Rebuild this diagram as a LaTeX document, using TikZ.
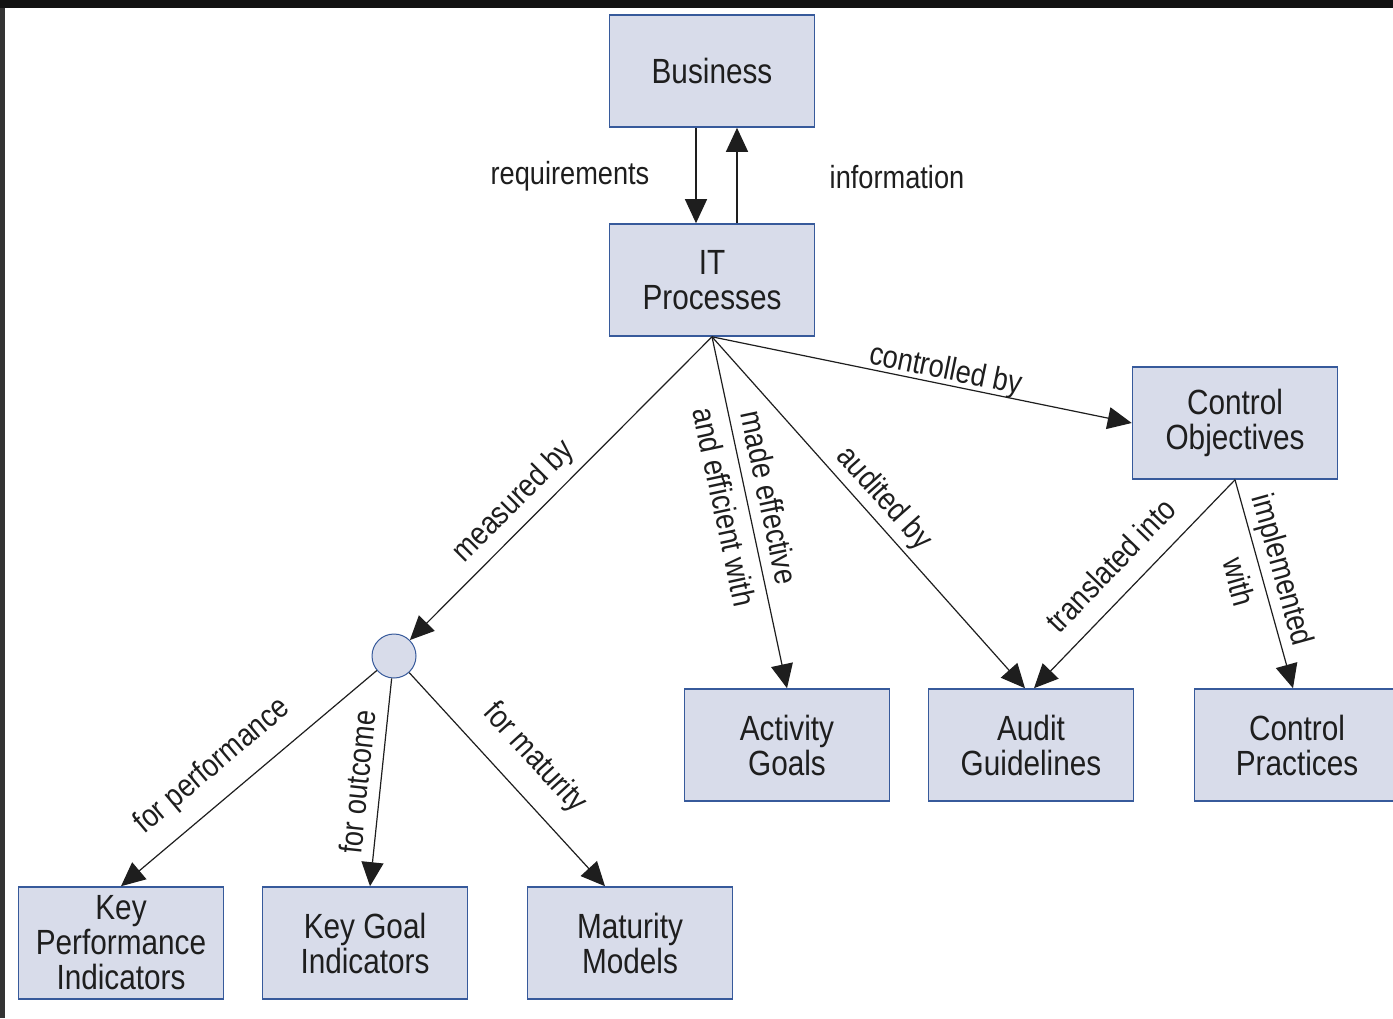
\documentclass[tikz,border=0pt]{standalone}
\usepackage{fontspec}
\setmainfont{Liberation Sans}[FakeStretch=0.85]
\usetikzlibrary{arrows.meta}
\definecolor{boxfill}{RGB}{216,220,234}
\definecolor{boxline}{RGB}{55,90,155}
\definecolor{ink}{RGB}{30,30,30}
\begin{document}
\begin{tikzpicture}[x=1pt, y=-1pt,
        box/.style={draw=boxline, line width=1.6pt, fill=boxfill, minimum width=205pt, minimum height=112pt, align=center, inner sep=0pt, text=ink, font=\fontsize{35}{35}\selectfont},
        dot/.style={circle, draw=boxline, line width=1pt, fill=boxfill, minimum size=44pt, inner sep=0pt},
        link/.style={-{Triangle[length=24pt,width=22pt]}, line width=1.2pt, draw=ink},
        lbl/.style={font=\fontsize{32}{46}\selectfont, text=ink, inner sep=1pt, align=center}]
        \useasboundingbox (0,0) rectangle (1393,1018);
        \fill[white] (0,0) rectangle (1393,1018);
        \fill[black!93] (0,0) rectangle (1393,8);
        \fill[black!80] (0,8) rectangle (5,1018);
        \node[box] (biz) at (712,71) {Business};
        \node[box] (itp) at (712,280) {IT\\Processes};
        \node[box] (cob) at (1235,423) {Control\\Objectives};
        \node[box] (act) at (787,745) {Activity\\Goals};
        \node[box] (aud) at (1031,745) {Audit\\Guidelines};
        \node[box] (cpr) at (1297,745) {Control\\Practices};
        \node[box] (kpi) at (121,943) {Key\\Performance\\Indicators};
        \node[box] (kgi) at (365,943) {Key Goal\\Indicators};
        \node[box] (mat) at (630,943) {Maturity\\Models};
        \node[dot] (hub) at (394,656) {};
        \node[lbl] (req) at (570,176) {requirements};
        \node[lbl] (inf) at (897,177) {information};
        \draw[link] ([xshift=-16pt]biz.south) -- ([xshift=-16pt]itp.north);
        \draw[link] ([xshift=25pt]itp.north) -- ([xshift=25pt]biz.south);
        \draw[link] (itp.south) -- node[lbl, sloped, pos=.6, above=7pt] {measured by} (hub);
        \draw[link] (itp.south) -- node[lbl, sloped, pos=.47] {made effective\\and efficient with} (act.north);
        \draw[link] (itp.south) -- node[lbl, sloped, pos=.5, above=4pt] {audited by} ([xshift=-6pt]aud.north);
        \draw[link] (itp.south) -- node[lbl, sloped, pos=.55, above=-3pt] {controlled by} (cob.west);
        \draw[link] (cob.south) -- node[lbl, sloped, pos=.51, above=17pt] {translated into} ([xshift=3pt]aud.north);
        \draw[link] (cob.south) -- node[lbl, sloped, pos=.46] {implemented\\with} ([xshift=-4pt]cpr.north);
        \draw[link] (hub) -- node[lbl, sloped, pos=.56, above=16pt] {for performance} (kpi.north);
        \draw[link] (hub) -- node[lbl, sloped, pos=.51, above=10pt] {for outcome} ([xshift=5pt]kgi.north);
        \draw[link] (hub) -- node[lbl, sloped, pos=.51, above=18pt] {for maturity} ([xshift=-25pt]mat.north);
\end{tikzpicture}
\end{document}
